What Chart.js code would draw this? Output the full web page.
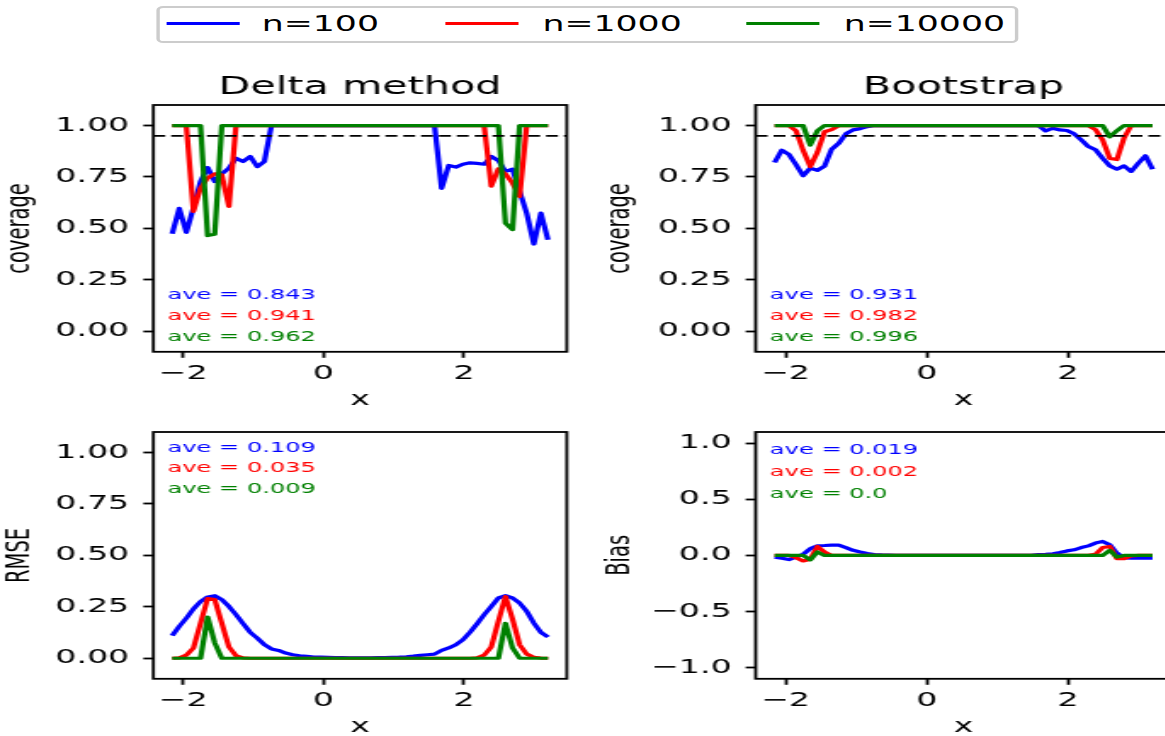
<!DOCTYPE html>
<html lang="en">
<head>
<meta charset="utf-8">
<title>Coverage, RMSE and bias by sample size</title>
<script src="https://cdn.jsdelivr.net/npm/chart.js@4.4.1/dist/chart.umd.min.js"></script>
<style>
  html, body { margin: 0; padding: 0; background: #ffffff; width: 1165px; height: 736px; overflow: hidden; }
  /* the figure is laid out narrow and widened horizontally as a whole */
  #figure { position: absolute; left: 0; top: 0; width: 686px; height: 736px;
            transform: scaleX(1.7); transform-origin: 0 0; font-family: "DejaVu Sans", sans-serif; }
  #figure canvas { position: absolute; }
  #legend { position: absolute; left: 91.5px; top: 5.5px; width: 507px; height: 37px; box-sizing: border-box;
            border: 2px solid #cccccc; border-radius: 4px; background: #ffffff; }
  #legend .swatch { position: absolute; top: 14.5px; height: 3px; }
  #legend .label { position: absolute; top: 4.3px; font-size: 20.4px; line-height: 24px; color: #000; white-space: nowrap; }
</style>
</head>
<body>
<div id="figure">
  <div id="legend"></div>
</div>
<script>
// evaluation grid
const xValues = [-2.155, -2.054, -1.953, -1.852, -1.751, -1.650, -1.549, -1.448, -1.347, -1.246,
  -1.145, -1.044, -0.943, -0.842, -0.741, -0.640, -0.539, -0.438, -0.337, -0.236,
  -0.135, -0.034, 0.067, 0.168, 0.269, 0.370, 0.471, 0.572, 0.673, 0.774,
  0.875, 0.976, 1.077, 1.178, 1.279, 1.380, 1.481, 1.582, 1.683, 1.784,
  1.885, 1.986, 2.087, 2.188, 2.289, 2.390, 2.491, 2.592, 2.693, 2.794,
  2.895, 2.996, 3.097, 3.198];

const seriesNames = ['n=100', 'n=1000', 'n=10000'];
const seriesColors = ['#0000ff', '#ff0000', '#008000'];

// coverage of the delta-method interval
const deltaCoverage100 = [0.474, 0.597, 0.481, 0.600, 0.728, 0.796, 0.728, 0.765, 0.793, 0.841,
  0.825, 0.850, 0.800, 0.825, 1, 1, 1, 1, 1, 1,
  1, 1, 1, 1, 1, 1, 1, 1, 1, 1,
  1, 1, 1, 1, 1, 1, 1, 1, 0.695, 0.806,
  0.798, 0.812, 0.819, 0.816, 0.812, 0.850, 0.830, 0.777, 0.788, 0.680,
  0.574, 0.424, 0.574, 0.445];
const deltaCoverage1000 = [1, 1, 1, 0.583, 0.696, 0.745, 0.765, 0.760, 0.607, 1,
  1, 1, 1, 1, 1, 1, 1, 1, 1, 1,
  1, 1, 1, 1, 1, 1, 1, 1, 1, 1,
  1, 1, 1, 1, 1, 1, 1, 1, 1, 1,
  1, 1, 1, 1, 1, 0.705, 0.790, 0.765, 0.720, 0.655,
  1, 1, 1, 1];
const deltaCoverage10000 = [1, 1, 1, 1, 1, 0.465, 0.472, 1, 1, 1,
  1, 1, 1, 1, 1, 1, 1, 1, 1, 1,
  1, 1, 1, 1, 1, 1, 1, 1, 1, 1,
  1, 1, 1, 1, 1, 1, 1, 1, 1, 1,
  1, 1, 1, 1, 1, 1, 1, 0.526, 0.494, 1,
  1, 1, 1, 1];

// coverage of the bootstrap interval
const bootCoverage100 = [0.820, 0.880, 0.860, 0.810, 0.756, 0.793, 0.782, 0.803, 0.885, 0.914,
  0.960, 0.979, 0.985, 0.995, 1, 1, 1, 1, 1, 1,
  1, 1, 1, 1, 1, 1, 1, 1, 1, 1,
  1, 1, 1, 1, 1, 1, 1, 1, 0.974, 0.987,
  0.979, 0.976, 0.960, 0.930, 0.898, 0.882, 0.841, 0.804, 0.788, 0.804,
  0.777, 0.817, 0.853, 0.788];
const bootCoverage1000 = [1, 1, 1, 0.975, 0.880, 0.800, 0.870, 0.970, 0.980, 1,
  1, 1, 1, 1, 1, 1, 1, 1, 1, 1,
  1, 1, 1, 1, 1, 1, 1, 1, 1, 1,
  1, 1, 1, 1, 1, 1, 1, 1, 1, 1,
  1, 1, 1, 1, 1, 0.980, 0.930, 0.840, 0.835, 0.940,
  1, 1, 1, 1];
const bootCoverage10000 = [1, 1, 1, 1, 1, 0.905, 0.975, 1, 1, 1,
  1, 1, 1, 1, 1, 1, 1, 1, 1, 1,
  1, 1, 1, 1, 1, 1, 1, 1, 1, 1,
  1, 1, 1, 1, 1, 1, 1, 1, 1, 1,
  1, 1, 1, 1, 1, 1, 1, 0.945, 0.975, 1,
  1, 1, 1, 1];

// RMSE of the delta-method estimate
const deltaRmse100 = [0.110, 0.155, 0.195, 0.240, 0.276, 0.298, 0.304, 0.285, 0.252, 0.212,
  0.168, 0.126, 0.098, 0.066, 0.045, 0.038, 0.025, 0.017, 0.012, 0.009,
  0.006, 0.005, 0.004, 0.003, 0.003, 0.002, 0.002, 0.002, 0.002, 0.003,
  0.003, 0.004, 0.005, 0.007, 0.010, 0.014, 0.017, 0.020, 0.038, 0.050,
  0.066, 0.090, 0.126, 0.168, 0.212, 0.252, 0.293, 0.304, 0.293, 0.268,
  0.228, 0.171, 0.126, 0.103];
const deltaRmse1000 = [0, 0.002, 0.015, 0.050, 0.170, 0.290, 0.285, 0.170, 0.055, 0.012,
  0.002, 0, 0, 0, 0, 0, 0, 0, 0, 0,
  0, 0, 0, 0, 0, 0, 0, 0, 0, 0,
  0, 0, 0, 0, 0, 0, 0, 0, 0, 0,
  0, 0, 0, 0.002, 0.015, 0.055, 0.180, 0.300, 0.190, 0.065,
  0.020, 0.005, 0.001, 0];
const deltaRmse10000 = [0, 0, 0, 0, 0, 0.200, 0.075, 0, 0, 0,
  0, 0, 0, 0, 0, 0, 0, 0, 0, 0,
  0, 0, 0, 0, 0, 0, 0, 0, 0, 0,
  0, 0, 0, 0, 0, 0, 0, 0, 0, 0,
  0, 0, 0, 0, 0, 0, 0, 0.170, 0.050, 0,
  0, 0, 0, 0];

// bias of the bootstrap estimate
const bootBias100 = [-0.016, -0.025, -0.037, -0.015, 0.010, 0.060, 0.085, 0.088, 0.092, 0.092,
  0.070, 0.045, 0.030, 0.016, 0.008, 0.005, 0.003, 0, 0, 0,
  0, 0, 0, 0, 0, 0, 0, 0, 0, 0,
  0, 0, 0, 0, 0, 0, 0, 0.008, 0.010, 0.015,
  0.025, 0.040, 0.050, 0.070, 0.085, 0.110, 0.125, 0.095, 0.020, -0.022,
  -0.025, -0.025, -0.025, -0.025];
const bootBias1000 = [0, 0, 0, -0.020, -0.050, -0.035, 0.080, 0.030, 0, 0,
  0, 0, 0, 0, 0, 0, 0, 0, 0, 0,
  0, 0, 0, 0, 0, 0, 0, 0, 0, 0,
  0, 0, 0, 0, 0, 0, 0, 0, 0, 0,
  0, 0, 0, 0, 0, 0.010, 0.070, 0.080, -0.030, -0.030,
  -0.005, 0, 0, 0];
const bootBias10000 = [0, 0, 0, 0, 0, -0.040, 0.030, 0, 0, 0,
  0, 0, 0, 0, 0, 0, 0, 0, 0, 0,
  0, 0, 0, 0, 0, 0, 0, 0, 0, 0,
  0, 0, 0, 0, 0, 0, 0, 0, 0, 0,
  0, 0, 0, 0, 0, 0, 0, 0.045, -0.015, 0,
  0, 0, 0, 0];

const nominalCoverage = 0.95;

// axis ticks
const xTicks = [-2, 0, 2];
const xTickLabels = ['\u22122', '0', '2'];
const unitTicks = [0, 0.25, 0.5, 0.75, 1];
const unitTickLabels = ['0.00', '0.25', '0.50', '0.75', '1.00'];
const biasTicks = [-1, -0.5, 0, 0.5, 1];
const biasTickLabels = ['\u22121.0', '\u22120.5', '0.0', '0.5', '1.0'];

// averages printed inside each panel
const aveDeltaCoverage = ['0.843', '0.941', '0.962'];
const aveBootCoverage = ['0.931', '0.982', '0.996'];
const aveDeltaRmse = ['0.109', '0.035', '0.009'];
const aveBootBias = ['0.019', '0.002', '0.0'];

// ---------------------------------------------------------------------------
const FONT = '"DejaVu Sans", sans-serif';
Chart.defaults.font.family = FONT;
Chart.defaults.color = '#000';

const X_MIN = -2.423, X_MAX = 3.466;
const TICK_SIZE = 19.5;

const figure = document.getElementById('figure');

// legend
(function buildLegend() {
  const legend = document.getElementById('legend');
  const swatchLeft = [4.6, 168.9, 345.9];
  const labelLeft = [60.5, 225.6, 402.8];
  seriesNames.forEach((name, i) => {
    const sw = document.createElement('div');
    sw.className = 'swatch';
    sw.style.left = swatchLeft[i] + 'px';
    sw.style.width = '42.5px';
    sw.style.background = seriesColors[i];
    legend.appendChild(sw);
    const lb = document.createElement('div');
    lb.className = 'label';
    lb.style.left = labelLeft[i] + 'px';
    lb.textContent = name;
    legend.appendChild(lb);
  });
})();

const panels = [
  { left: 0, top: 51.5, width: 345, padRight: 11.6, yWidth: 90.2, title: 'Delta method',
    yTitle: 'coverage', yTitlePad: 0.4, yMin: -0.1, yMax: 1.1, ticks: unitTicks, tickLabels: unitTickLabels,
    series: [deltaCoverage100, deltaCoverage1000, deltaCoverage10000], nominal: true,
    notes: aveDeltaCoverage, noteAt: [0.173, 0.073, -0.028] },
  { left: 350, top: 51.5, width: 350, padRight: 10.9, yWidth: 94.5, title: 'Bootstrap',
    yTitle: 'coverage', yTitlePad: 3.1, yMin: -0.1, yMax: 1.1, ticks: unitTicks, tickLabels: unitTickLabels,
    series: [bootCoverage100, bootCoverage1000, bootCoverage10000], nominal: true,
    notes: aveBootCoverage, noteAt: [0.173, 0.073, -0.028] },
  { left: 0, top: 378.7, width: 345, padRight: 11.6, yWidth: 90.2, title: '',
    yTitle: 'RMSE', yTitlePad: 0.7, yMin: -0.1, yMax: 1.1, ticks: unitTicks, tickLabels: unitTickLabels,
    series: [deltaRmse100, deltaRmse1000, deltaRmse10000], nominal: false,
    notes: aveDeltaRmse, noteAt: [1.022, 0.922, 0.823] },
  { left: 350, top: 378.7, width: 350, padRight: 10.9, yWidth: 94.5, title: '',
    yTitle: 'Bias', yTitlePad: 2.9, yMin: -1.1, yMax: 1.1, ticks: biasTicks, tickLabels: biasTickLabels,
    series: [bootBias100, bootBias1000, bootBias10000], nominal: false,
    notes: aveBootBias, noteAt: [0.941, 0.740, 0.542] }
];

function framePlugin(p) {
  return {
    id: 'frame',
    afterDatasetsDraw(chart) {
      const { ctx, chartArea: a } = chart;
      const yScale = chart.scales.y;
      ctx.save();
      // axes box
      ctx.strokeStyle = '#000';
      ctx.lineWidth = 1.8;
      ctx.strokeRect(a.left, a.top, a.right - a.left, a.bottom - a.top);
      // averages
      ctx.font = '14.2px ' + FONT;
      ctx.textAlign = 'left';
      ctx.textBaseline = 'middle';
      p.notes.forEach((txt, i) => {
        ctx.fillStyle = seriesColors[i];
        ctx.fillText('ave = ' + txt, a.left + 8.3, yScale.getPixelForValue(p.noteAt[i]));
      });
      // panel title
      if (p.title) {
        ctx.fillStyle = '#000';
        ctx.font = '24.3px ' + FONT;
        ctx.textAlign = 'center';
        ctx.textBaseline = 'alphabetic';
        ctx.fillText(p.title, (a.left + a.right) / 2, a.top - 11.5);
      }
      ctx.restore();
    }
  };
}

panels.forEach(p => {
  const canvas = document.createElement('canvas');
  canvas.width = p.width;
  canvas.height = 360;
  canvas.style.left = p.left + 'px';
  canvas.style.top = p.top + 'px';
  canvas.style.width = p.width + 'px';
  canvas.style.height = '360px';
  figure.appendChild(canvas);

  const datasets = p.series.map((ys, i) => ({
    label: seriesNames[i],
    data: xValues.map((x, k) => ({ x: x, y: ys[k] })),
    borderColor: seriesColors[i],
    borderWidth: 3.2,
    borderJoinStyle: 'round',
    pointRadius: 0,
    tension: 0,
    fill: false,
    order: 3 - i
  }));
  if (p.nominal) {
    datasets.push({
      label: 'nominal',
      data: [{ x: X_MIN, y: nominalCoverage }, { x: X_MAX, y: nominalCoverage }],
      borderColor: '#000',
      borderWidth: 1.8,
      borderDash: [7, 3.5],
      pointRadius: 0,
      fill: false,
      order: 0
    });
  }

  new Chart(canvas, {
    type: 'line',
    data: { datasets },
    plugins: [framePlugin(p)],
    options: {
      responsive: false,
      animation: false,
      devicePixelRatio: 1,
      events: [],
      layout: { padding: { top: 53, right: p.padRight, bottom: 0, left: 0 } },
      plugins: { legend: { display: false }, tooltip: { enabled: false }, title: { display: false } },
      scales: {
        x: {
          type: 'linear', position: 'bottom', min: X_MIN, max: X_MAX,
          afterBuildTicks: s => { s.ticks = xTicks.map(v => ({ value: v })); },
          afterFit: s => { s.height = 60.2; },
          ticks: { autoSkip: false, maxRotation: 0, minRotation: 0, padding: 4.3,
                   font: { size: TICK_SIZE }, color: '#000', callback: (v, i) => xTickLabels[i] },
          grid: { drawOnChartArea: false, drawTicks: true, tickLength: 6, tickWidth: 1.8, tickColor: '#000', color: '#000' },
          border: { display: false },
          title: { display: true, text: 'x', font: { size: TICK_SIZE }, color: '#000', padding: { top: 0, bottom: 0 } }
        },
        y: {
          type: 'linear', position: 'left', min: p.yMin, max: p.yMax,
          afterBuildTicks: s => { s.ticks = p.ticks.map(v => ({ value: v })); },
          afterFit: s => { s.width = p.yWidth; },
          ticks: { autoSkip: false, padding: 8.3, font: { size: TICK_SIZE }, color: '#000',
                   callback: (v, i) => p.tickLabels[i] },
          grid: { drawOnChartArea: false, drawTicks: true, tickLength: 5.9, tickWidth: 1.8, tickColor: '#000', color: '#000' },
          border: { display: false },
          title: { display: true, text: p.yTitle, font: { size: TICK_SIZE }, color: '#000',
                   padding: { top: p.yTitlePad, bottom: 0 } }
        }
      }
    }
  });
});
</script>
</body>
</html>
